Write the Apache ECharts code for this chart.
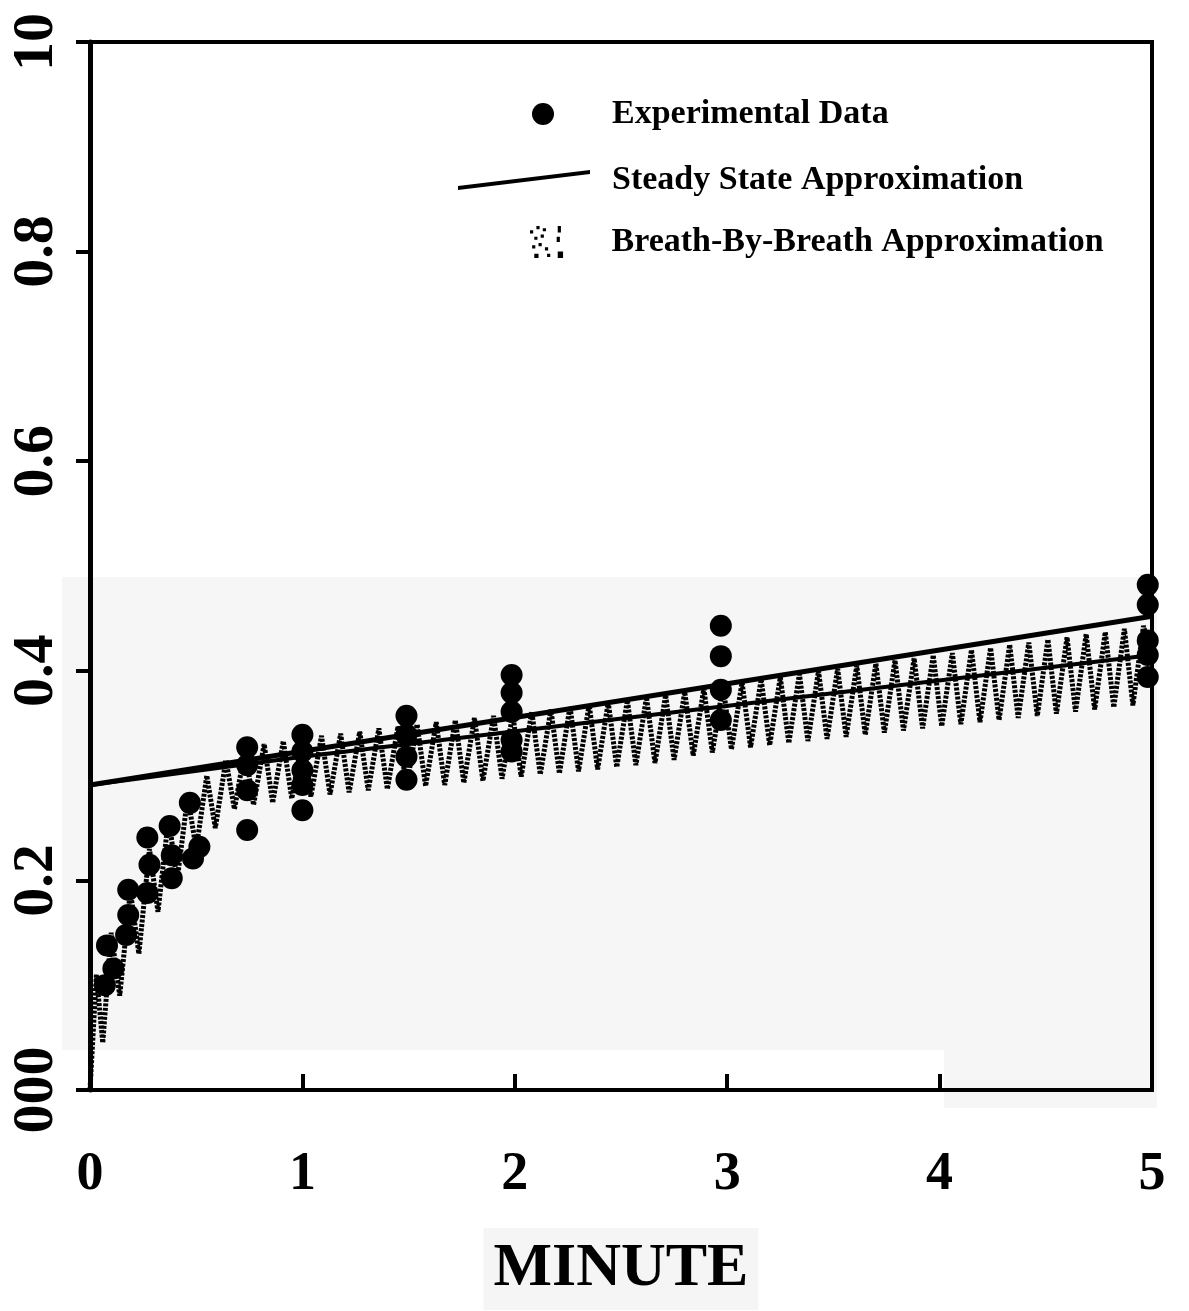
<!DOCTYPE html>
<html>
<head>
<meta charset="utf-8">
<script src="https://cdn.jsdelivr.net/npm/echarts@6/dist/echarts.min.js"></script>
<style>
html,body{margin:0;padding:0;background:#fff;}
#chart{width:1189px;height:1311px;}
</style>
</head>
<body>
<div id="chart"></div>
<script>
// ---- data ----
var xTickLabels = ['0', '1', '2', '3', '4', '5'];
var yTickLabels = ['000', '0.2', '0.4', '0.6', '0.8', '10'];
var xAxisTitle = 'MINUTE';

var expName = 'Experimental Data';
var ssName = 'Steady State Approximation';
var bbbName = 'Breath-By-Breath Approximation';

// Experimental data [minute, value]
var experimental = [
  [0.08, 0.138], [0.11, 0.116], [0.07, 0.100],
  [0.18, 0.191], [0.18, 0.167], [0.17, 0.148],
  [0.27, 0.241], [0.28, 0.215], [0.27, 0.188],
  [0.375, 0.252], [0.385, 0.224], [0.385, 0.202],
  [0.47, 0.274], [0.485, 0.221], [0.515, 0.232],
  [0.74, 0.327], [0.74, 0.310], [0.74, 0.286], [0.74, 0.248],
  [1.00, 0.339], [1.00, 0.323], [1.00, 0.305], [1.00, 0.291], [1.00, 0.267],
  [1.49, 0.357], [1.49, 0.339], [1.49, 0.318], [1.49, 0.296],
  [1.985, 0.396], [1.985, 0.379], [1.985, 0.361], [1.985, 0.334], [1.985, 0.323],
  [2.97, 0.443], [2.97, 0.414], [2.97, 0.382], [2.97, 0.353],
  [4.98, 0.482], [4.98, 0.463], [4.98, 0.429], [4.98, 0.415], [4.98, 0.394]
];

// Steady state approximation (two straight traces)
var steadyUpper = [[0, 0.291], [5, 0.452]];
var steadyLower = [[0, 0.291], [1, 0.318], [5, 0.415]];

// Breath-by-breath approximation (saw-tooth trace)
var breathTime = [
  0.00, 0.03, 0.06, 0.10, 0.14, 0.19, 0.23, 0.28, 0.32, 0.37,
  0.41, 0.46, 0.50, 0.55, 0.59, 0.64, 0.68, 0.73, 0.77, 0.82,
  0.86, 0.91, 0.95, 1.00, 1.04, 1.09, 1.13, 1.18, 1.22, 1.27,
  1.31, 1.36, 1.40, 1.45, 1.49, 1.54, 1.58, 1.63, 1.67, 1.72,
  1.76, 1.81, 1.85, 1.90, 1.94, 1.99, 2.03, 2.08, 2.12, 2.17,
  2.21, 2.26, 2.30, 2.35, 2.39, 2.44, 2.48, 2.53, 2.57, 2.62,
  2.66, 2.71, 2.75, 2.80, 2.84, 2.89, 2.93, 2.98, 3.02, 3.07,
  3.11, 3.16, 3.20, 3.25, 3.29, 3.34, 3.38, 3.43, 3.47, 3.52,
  3.56, 3.61, 3.65, 3.70, 3.74, 3.79, 3.83, 3.88, 3.92, 3.97,
  4.01, 4.06, 4.10, 4.15, 4.19, 4.24, 4.28, 4.33, 4.37, 4.42,
  4.46, 4.51, 4.55, 4.60, 4.64, 4.69, 4.73, 4.78, 4.82, 4.87,
  4.91, 4.96, 5.00
];
var breathValue = [
  0.000, 0.110, 0.045, 0.150, 0.090, 0.190, 0.130, 0.230, 0.170, 0.260,
  0.200, 0.280, 0.230, 0.300, 0.250, 0.315, 0.268, 0.325, 0.272, 0.330,
  0.274, 0.333, 0.278, 0.336, 0.280, 0.338, 0.282, 0.340, 0.284, 0.342,
  0.286, 0.345, 0.287, 0.347, 0.289, 0.349, 0.290, 0.351, 0.291, 0.353,
  0.293, 0.355, 0.295, 0.357, 0.297, 0.359, 0.299, 0.361, 0.301, 0.363,
  0.302, 0.366, 0.304, 0.368, 0.306, 0.370, 0.308, 0.372, 0.310, 0.375,
  0.312, 0.377, 0.315, 0.380, 0.319, 0.383, 0.322, 0.386, 0.325, 0.389,
  0.327, 0.392, 0.329, 0.394, 0.331, 0.397, 0.333, 0.400, 0.335, 0.402,
  0.337, 0.405, 0.339, 0.407, 0.341, 0.410, 0.343, 0.412, 0.345, 0.415,
  0.347, 0.417, 0.349, 0.420, 0.351, 0.422, 0.353, 0.425, 0.355, 0.427,
  0.357, 0.430, 0.359, 0.432, 0.361, 0.435, 0.363, 0.437, 0.365, 0.440,
  0.367, 0.443, 0.410
];

// ---- chart ----
var breathData = breathTime.map(function (t, i) { return [t, breathValue[i]]; });
var FONT = '"Liberation Serif", "DejaVu Serif", serif';
var chart = echarts.init(document.getElementById('chart'), null, { renderer: 'canvas' });

function lt(pad) {
  return { fontFamily: FONT, fontWeight: 'bold', fontSize: 34, color: '#000', padding: pad };
}

chart.setOption({
  animation: false,
  backgroundColor: '#ffffff',
  graphic: [
    { type: 'rect', z: -10, shape: { x: 62, y: 577, width: 1095, height: 473 }, style: { fill: '#f6f6f6' } },
    { type: 'rect', z: -10, shape: { x: 944, y: 1050, width: 213, height: 58 }, style: { fill: '#f6f6f6' } }
  ],
  grid: {
    left: 90, top: 42, width: 1062, height: 1048,
    outerBoundsMode: 'none', containLabel: false,
    show: true, borderColor: '#000', borderWidth: 4, backgroundColor: 'transparent'
  },
  legend: [
    {
      data: [expName], left: 527, top: 92, orient: 'vertical',
      itemWidth: 22, itemHeight: 22, icon: 'circle',
      itemStyle: { color: '#000' }, textStyle: lt([0, 0, 0, 53])
    },
    {
      data: [ssName], left: 453, top: 158, orient: 'vertical',
      itemWidth: 132, itemHeight: 20,
      icon: 'path://M0,16 L132,0 L132,4 L0,20 Z',
      itemStyle: { color: '#000' }, textStyle: lt([0, 0, 0, 17])
    },
    {
      data: [bbbName], left: 525, top: 220, orient: 'vertical',
      itemWidth: 34, itemHeight: 32,
      icon: 'path://M2,6h3v3h-3z M8,2h3v3h-3z M14,4h3v3h-3z M6,12h3v3h-3z M12,10h3v3h-3z M28,2h3v6h-3z M27,12h3v5h-3z M4,20h3v3h-3z M10,18h3v3h-3z M16,22h3v3h-3z M6,28h4v4h-4z M18,28h3v3h-3z M28,26h5v6h-5z',
      itemStyle: { color: '#000' }, textStyle: lt([18, 0, 0, 43])
    }
  ],
  xAxis: {
    type: 'value', min: 0, max: 5, interval: 1,
    axisLine: { show: true, lineStyle: { color: '#000', width: 4 } },
    axisTick: { show: true, inside: true, length: 16, lineStyle: { color: '#000', width: 4 } },
    splitLine: { show: false },
    axisLabel: {
      margin: 58, fontFamily: FONT, fontWeight: 'bold', fontSize: 54, color: '#000',
      formatter: function (v) { return xTickLabels[Math.round(v)]; }
    },
    name: xAxisTitle, nameLocation: 'middle', nameGap: 138, nameMoveOverlap: false,
    nameTextStyle: {
      fontFamily: FONT, fontWeight: 'bold', fontSize: 62, color: '#000',
      backgroundColor: '#f5f5f5', padding: [10, 10, 10, 10]
    }
  },
  yAxis: {
    type: 'value', min: 0, max: 1, interval: 0.2,
    axisLine: { show: true, lineStyle: { color: '#000', width: 5 } },
    axisTick: { show: true, inside: false, length: 14, lineStyle: { color: '#000', width: 4 } },
    splitLine: { show: false },
    axisLabel: {
      rotate: 90, margin: 24, fontFamily: FONT, fontWeight: 'bold', fontSize: 58, color: '#000',
      formatter: function (v) { return yTickLabels[Math.round(v / 0.2)]; }
    }
  },
  series: [
    {
      name: bbbName, type: 'line', data: breathData, showSymbol: false, z: 2,
      lineStyle: { color: '#000', width: 5, type: [3, 1.5] }, itemStyle: { color: '#000' }
    },
    {
      name: ssName, type: 'line', data: steadyUpper, showSymbol: false, z: 3,
      lineStyle: { color: '#000', width: 5 }, itemStyle: { color: '#000' }
    },
    {
      name: ssName, type: 'line', data: steadyLower, showSymbol: false, z: 3,
      lineStyle: { color: '#000', width: 4 }, itemStyle: { color: '#000' }
    },
    {
      name: expName, type: 'scatter', data: experimental, symbol: 'circle', symbolSize: 22, z: 4,
      itemStyle: { color: '#000', opacity: 1 }
    }
  ]
});
</script>
</body>
</html>
